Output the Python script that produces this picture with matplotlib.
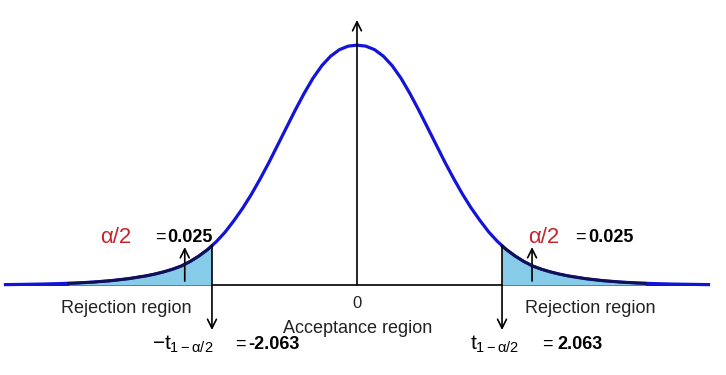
"""Two-tailed t test: rejection and acceptance regions"""

import matplotlib

matplotlib.use("Agg")
import matplotlib.pyplot as plt
import numpy as np

plt.rcParams["font.family"] = ["Liberation Sans", "DejaVu Sans"]
plt.rcParams["mathtext.fontset"] = "custom"
plt.rcParams["mathtext.rm"] = "Liberation Sans"
plt.rcParams["mathtext.it"] = "Liberation Sans"
plt.rcParams["mathtext.bf"] = "Liberation Sans:bold"

# right half of the density curve (mirrored for the left)
half_x = [0.0, 0.125, 0.25, 0.375, 0.5, 0.625, 0.75, 0.875, 1.0, 1.125, 1.25,
          1.375, 1.5, 1.625, 1.75, 1.875, 2.0, 2.125, 2.25, 2.375, 2.5, 2.625,
          2.75, 2.875, 3.0, 3.25, 3.5, 3.75, 4.0, 4.25, 4.5, 4.75, 5.0]
half_y = [0.3947, 0.3931, 0.3873, 0.3766, 0.3610, 0.3405, 0.3158, 0.2886,
          0.2599, 0.2311, 0.2023, 0.1752, 0.1497, 0.1266, 0.1061, 0.0872,
          0.0715, 0.0584, 0.0477, 0.0387, 0.0313, 0.0260, 0.0217, 0.0181,
          0.0151, 0.0105, 0.0072, 0.0049, 0.0033, 0.0023, 0.0016, 0.0011,
          0.0007]

# shaded tail (right side, mirrored for the left)
tail_x = [2.063, 2.125, 2.25, 2.375, 2.5, 2.625, 2.75, 2.875, 3.0, 3.25, 3.5,
          3.75, 4.0, 4.1]
tail_y = [0.0645, 0.0584, 0.0477, 0.0387, 0.0313, 0.0260, 0.0217, 0.0181,
          0.0151, 0.0105, 0.0072, 0.0049, 0.0033, 0.0029]

t_crit = 2.063
alpha_half = 0.025

BLUE = "#1414d8"
FILL = "#86cbe8"
RED = "#c4262e"

x = np.concatenate([-np.array(half_x[:0:-1]), np.array(half_x)])
y = np.concatenate([np.array(half_y[:0:-1]), np.array(half_y)])
tx = np.array(tail_x)
ty = np.array(tail_y)

fig = plt.figure(figsize=(7.26, 3.75), dpi=100)
ax = fig.add_axes([0, 0, 1, 1])
ax.set_xlim(-5.078, 5.249)
ax.set_ylim(-0.148, 0.469)
ax.axis("off")

# baseline
ax.plot([x[0], x[-1]], [0, 0], color="black", lw=1.2, zorder=1)

# tails
for sign in (-1, 1):
    ax.fill_between(sign * tx, 0, ty, color=FILL, lw=0, zorder=2)

ax.plot(x, y, color=BLUE, lw=2.3, zorder=3, solid_joinstyle="round")
for sign in (-1, 1):
    ax.plot(sign * tx, ty, color="#12124a", lw=2.0, zorder=4,
            solid_joinstyle="round")

arrow = dict(arrowstyle="->", lw=1.2, color="black", mutation_scale=16,
             shrinkA=0, shrinkB=0)

# vertical axis arrow at 0
ax.annotate("", xy=(0, 0.436), xytext=(0, 0), arrowprops=arrow, zorder=5)

# critical value lines
for sign in (-1, 1):
    ax.annotate("", xy=(sign * t_crit, -0.074), xytext=(sign * t_crit, tail_y[0]),
                arrowprops=arrow, zorder=5)

# small arrows pointing at the tail areas
ax.annotate("", xy=(-2.45, 0.0625), xytext=(-2.45, 0.0066), arrowprops=arrow)
ax.annotate("", xy=(2.49, 0.0625), xytext=(2.49, 0.0066), arrowprops=arrow)

fs = 13
# alpha/2 labels
ax.text(-3.656, 0.079, "α/2", color=RED, fontsize=16, ha="left", va="center")
ax.text(-2.873, 0.079, "=", fontsize=fs, ha="left", va="center")
ax.text(-2.70, 0.079, f"{alpha_half:.3f}", fontsize=fs, fontweight="bold",
        ha="left", va="center")
ax.text(2.432, 0.079, "α/2", color=RED, fontsize=16, ha="left", va="center")
ax.text(3.10, 0.079, "=", fontsize=fs, ha="left", va="center")
ax.text(3.286, 0.079, f"{alpha_half:.3f}", fontsize=fs, fontweight="bold",
        ha="left", va="center")

# region labels
ax.text(-3.279, -0.0378, "Rejection region", fontsize=fs, ha="center", va="center",
        color="#222222")
ax.text(3.314, -0.0378, "Rejection region", fontsize=fs, ha="center", va="center",
        color="#222222")
ax.text(0, -0.0296, "0", fontsize=fs - 1, ha="center", va="center", color="#222222")
ax.text(0.014, -0.0707, "Acceptance region", fontsize=fs, ha="center", va="center",
        color="#222222")

# critical value labels
ax.text(-2.916, -0.097, r"$-t_{1-\alpha/2}$", fontsize=fs + 2, ha="left",
        va="center")
ax.text(-1.735, -0.097, "=", fontsize=fs, ha="left", va="center")
ax.text(-1.55, -0.097, f"{-t_crit:.3f}", fontsize=fs, fontweight="bold",
        ha="left", va="center")
ax.text(1.607, -0.097, r"$t_{1-\alpha/2}$", fontsize=fs + 2, ha="left",
        va="center")
ax.text(2.63, -0.097, "=", fontsize=fs, ha="left", va="center")
ax.text(2.845, -0.097, f"{t_crit:.3f}", fontsize=fs, fontweight="bold",
        ha="left", va="center")

fig.savefig("out.png", dpi=100)
